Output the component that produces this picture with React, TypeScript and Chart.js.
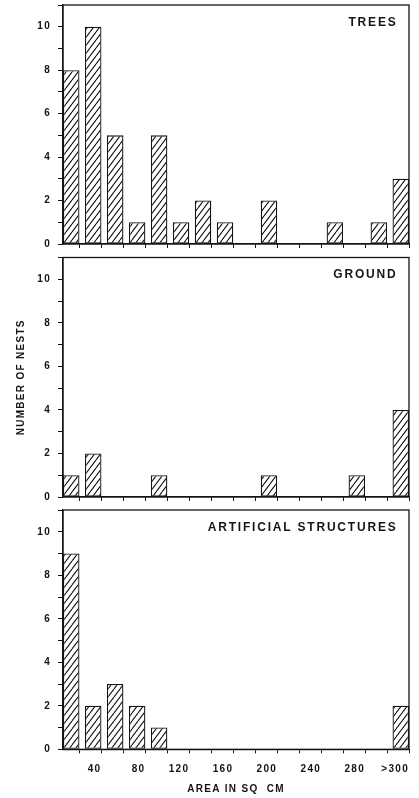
import React, { useEffect, useRef } from "react";
import { Chart, registerables } from "chart.js";

Chart.register(...registerables);

// ---------------- data ----------------
const binLabels = [
  "0-20", "20-40", "40-60", "60-80", "80-100", "100-120", "120-140", "140-160",
  "160-180", "180-200", "200-220", "220-240", "240-260", "260-280", "280-300", ">300",
];
// label shown at the upper edge of each bin
const xTickLabels = [
  "", "40", "", "80", "", "120", "", "160", "", "200", "", "240", "", "280", "", ">300",
];
// label for y values 0..11
const yTickLabels = ["0", "", "2", "", "4", "", "6", "", "8", "", "10", ""];

const treesCounts = [8, 10, 5, 1, 5, 1, 2, 1, 0, 2, 0, 0, 1, 0, 1, 3];
const groundCounts = [1, 2, 0, 0, 1, 0, 0, 0, 0, 1, 0, 0, 0, 1, 0, 4];
const artificialCounts = [9, 2, 3, 2, 1, 0, 0, 0, 0, 0, 0, 0, 0, 0, 0, 2];

const panelTitles = ["TREES", "GROUND", "ARTIFICIAL STRUCTURES"];
const yAxisTitle = "NUMBER OF NESTS";
const xAxisTitle = "AREA IN SQ  CM";

const BIN = 20;
const BAR_FRACTION = 0.75;
const Y_MAX = 11;
const INK = "#151515";

Chart.defaults.font.family = '"Liberation Sans", Arial, Helvetica, sans-serif';
Chart.defaults.font.size = 10;
Chart.defaults.font.weight = "bold";
Chart.defaults.color = INK;

const spacingPlugin = {
  id: "spacing",
  beforeUpdate(chart: any) {
    chart.ctx.letterSpacing = "1.3px";
  },
  beforeDraw(chart: any) {
    chart.ctx.letterSpacing = "1.3px";
  },
};

const framePlugin = {
  id: "frame",
  afterDraw(chart: any, _args: any, opts: any) {
    const { ctx, chartArea: a } = chart;
    ctx.save();
    ctx.strokeStyle = INK;
    ctx.lineWidth = 1.3;
    ctx.strokeRect(a.left, a.top, a.right - a.left, a.bottom - a.top);
    if (opts && opts.text) {
      ctx.font = 'bold 12px "Liberation Sans", Arial, sans-serif';
      ctx.letterSpacing = "1.8px";
      ctx.fillStyle = INK;
      ctx.textAlign = "right";
      ctx.textBaseline = "middle";
      ctx.fillText(opts.text, a.right - 11.5, a.top + 17.5);
    }
    ctx.restore();
  },
};

type PanelProps = {
  counts: number[];
  title: string;
  top: number;
  height: number;
  padTop: number;
  xHeight: number;
  bottomAxis: boolean;
  yTitle: boolean;
};

function Panel({ counts, title, top, height, padTop, xHeight, bottomAxis, yTitle }: PanelProps) {
  const ref = useRef<HTMLCanvasElement>(null);

  useEffect(() => {
    const canvas = ref.current!;
    const pc = document.createElement("canvas");
    pc.width = 6;
    pc.height = 8;
    const p = pc.getContext("2d")!;
    p.fillStyle = "#ffffff";
    p.fillRect(0, 0, 6, 8);
    p.strokeStyle = INK;
    p.lineWidth = 1.1;
    p.beginPath();
    for (const dx of [-6, 0, 6]) {
      p.moveTo(dx, 8);
      p.lineTo(dx + 6, 0);
    }
    p.stroke();
    const pattern = canvas.getContext("2d")!.createPattern(pc, "repeat")!;

    const data = counts.map((c, i) => ({
      x: (i + 1) * BIN - (BIN * BAR_FRACTION) / 2,
      y: c,
    }));

    const chart = new Chart(canvas, {
      type: "bar",
      data: {
        labels: binLabels,
        datasets: [
          {
            data: data as any,
            backgroundColor: pattern as any,
            borderColor: INK,
            borderWidth: 1.3,
            borderSkipped: false,
            categoryPercentage: 1,
            barPercentage: BAR_FRACTION,
          },
        ],
      },
      plugins: [spacingPlugin, framePlugin],
      options: {
        responsive: false,
        animation: false,
        events: [],
        layout: { padding: { top: padTop, left: 0, right: 10, bottom: 0 } },
        plugins: {
          legend: { display: false },
          tooltip: { enabled: false },
          frame: { text: title },
        } as any,
        scales: {
          x: {
            type: "linear",
            min: BIN - BIN * BAR_FRACTION,
            max: binLabels.length * BIN,
            offset: false,
            afterBuildTicks: (s: any) => {
              s.ticks = binLabels.map((_, i) => ({ value: (i + 1) * BIN }));
            },
            afterFit: (s: any) => {
              s.height = xHeight;
              s.paddingLeft = 0;
              s.paddingRight = 0;
            },
            grid: {
              offset: false,
              drawOnChartArea: false,
              drawTicks: true,
              tickLength: 4,
              color: INK,
              lineWidth: 1,
            },
            border: { display: true, color: INK, width: 1.3 },
            ticks: {
              display: bottomAxis,
              autoSkip: false,
              maxRotation: 0,
              minRotation: 0,
              align: "end",
              padding: 10,
              color: INK,
              callback: (_v: any, i: number) => xTickLabels[i] ?? "",
            },
            title: {
              display: bottomAxis,
              text: xAxisTitle,
              color: INK,
              padding: { top: 0, bottom: 3 },
            },
          } as any,
          y: {
            min: 0,
            max: Y_MAX,
            afterFit: (s: any) => {
              s.width = 63;
              s.paddingTop = 0;
              s.paddingBottom = 0;
            },
            grid: {
              drawOnChartArea: false,
              tickLength: 5,
              color: INK,
              lineWidth: 1,
            },
            border: { display: true, color: INK, width: 1.3 },
            ticks: {
              stepSize: 1,
              autoSkip: false,
              padding: 7,
              color: INK,
              callback: (v: any) => yTickLabels[Number(v)] ?? "",
            },
            title: {
              display: yTitle,
              text: yAxisTitle,
              color: INK,
              padding: { top: 15, bottom: 0 },
            },
          } as any,
        },
      },
    });
    return () => chart.destroy();
  }, []);

  return (
    <canvas
      ref={ref}
      width={419}
      height={height}
      style={{ position: "absolute", left: 0, top, width: 419, height }}
    />
  );
}

export default function App() {
  return (
    <div
      style={{
        position: "absolute",
        left: 0,
        top: 0,
        width: 419,
        height: 798,
        background: "#ffffff",
        overflow: "hidden",
      }}
    >
      <Panel counts={treesCounts} title={panelTitles[0]} top={0} height={252} padTop={5} xHeight={8} bottomAxis={false} yTitle={false} />
      <Panel counts={groundCounts} title={panelTitles[1]} top={252} height={253} padTop={5.5} xHeight={8} bottomAxis={false} yTitle={true} />
      <Panel counts={artificialCounts} title={panelTitles[2]} top={505} height={293} padTop={5} xHeight={48.7} bottomAxis={true} yTitle={false} />
    </div>
  );
}
